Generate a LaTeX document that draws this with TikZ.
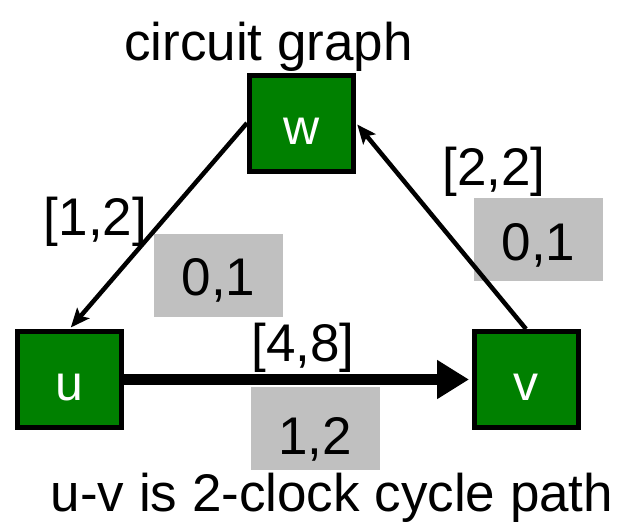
\documentclass[tikz,border=0pt]{standalone}
\usepackage{fontspec}
\setmainfont{Liberation Sans}
\usetikzlibrary{arrows.meta}
\definecolor{gcol}{RGB}{0,128,0}
\definecolor{graybg}{RGB}{192,192,192}
\begin{document}
\begin{tikzpicture}[x=1pt,y=-1pt,
  vbox/.style={draw=black, line width=5pt, fill=gcol, minimum width=104pt, minimum height=96pt, inner sep=0pt, text=white, font=\fontsize{50}{56}\selectfont, text height=42pt, text depth=0pt},
  gbox/.style={fill=graybg, minimum width=129pt, minimum height=83pt, inner sep=0pt},
  lbl/.style={anchor=base, inner sep=0pt, font=\fontsize{53}{60}\selectfont},
  edgearrow/.style={line width=4.5pt, shorten >=2pt, -{Stealth[length=19pt,width=16pt,inset=4pt]}},
  bigarrow/.style={line width=11pt, shorten >=2.5pt, -{Triangle[length=32pt,width=37pt]}}]
\useasboundingbox (0,0) rectangle (621,525);
% gray boxes
\node[gbox] (g1) at (218.5,275.5) {};
\node[gbox] (g2) at (538.5,239) {};
\node[gbox] (g3) at (315,428.5) {};
% vertices
\node[vbox] (w) at (301.5,123) {w};
\node[vbox] (u) at (69.5,379.5) {u};
\node[vbox] (v) at (526,379.5) {v};
% edges
\draw[edgearrow] (w.west) -- (u.north);
\draw[edgearrow] (v.north) -- (w.east);
\draw[bigarrow] (u.east) -- (v.west);
% labels
\node[lbl] (cg) at (268.5,60) {circuit graph};
\node[lbl] (l12) at (95.5,235) {[1,2]};
\node[lbl] (l22) at (494,185) {[2,2]};
\node[lbl] (l48) at (303,361) {[4,8]};
\node[lbl] (t01a) at (218.5,295) {0,1};
\node[lbl] (t01b) at (538.5,260) {0,1};
\node[lbl] (t12) at (315,454) {1,2};
\node[lbl] (cap) at (332,511) {u-v is 2-clock cycle path};
\end{tikzpicture}
\end{document}
